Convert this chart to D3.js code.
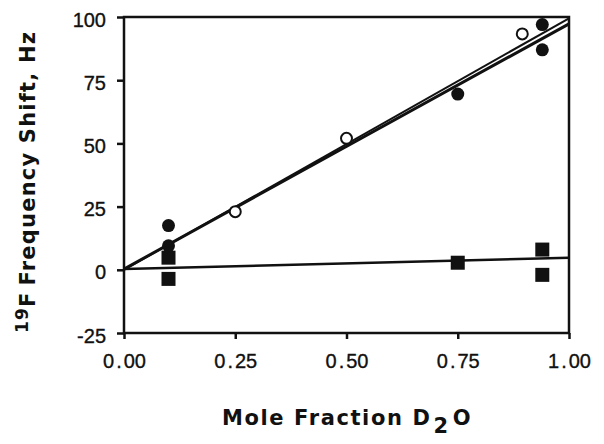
<!DOCTYPE html>
<html>
<head>
<meta charset="utf-8">
<script src="https://cdn.jsdelivr.net/npm/d3@7"></script>
<style>
    body { margin: 0; background: #fff; }
    svg { display: block; }
    .tick-label { font-family: "Liberation Sans", Arial, sans-serif; font-size: 20px; fill: #111; stroke: #111; stroke-width: 0.35px; }
    .axis-title { font-family: "DejaVu Sans", sans-serif; font-size: 21px; font-weight: bold; fill: #111; }
</style>
</head>
<body>
<svg id="svg" width="604" height="444"></svg>
<script>
// Data
const xTicks = [0, 0.25, 0.5, 0.75, 1.0];
const yTicks = [-25, 0, 25, 50, 75, 100];

// filled circles
const filledCircleX = [0.1, 0.1, 0.75, 0.94, 0.94];
const filledCircleY = [17.5, 9.5, 69.5, 97, 87];

// open circles
const openCircleX = [0.25, 0.5, 0.895];
const openCircleY = [23, 52, 93.3];

// filled squares
const squareX = [0.1, 0.1, 0.75, 0.94, 0.94];
const squareY = [4.8, -3.6, 2.8, 8, -2];

// fitted lines (start, end)
const fitLines = [
    { x: [0, 1], y: [0, 99.5], w: 2 },
    { x: [0, 1], y: [0.3, 97.3], w: 3 },
    { x: [0, 1], y: [0.3, 4.8], w: 2.5 }
];

const svg = d3.select("#svg");
const x = d3.scaleLinear().domain([0, 1]).range([124, 569]);
const y = d3.scaleLinear().domain([-25, 100]).range([333, 17]);

const g = svg.append("g");

// Fit lines
fitLines.forEach(l => {
    g.append("line")
        .attr("x1", x(l.x[0])).attr("y1", y(l.y[0]))
        .attr("x2", x(l.x[1])).attr("y2", y(l.y[1]))
        .attr("stroke", "#111")
        .attr("stroke-width", l.w);
});

// Frame
g.append("rect")
    .attr("x", x(0)).attr("y", y(100))
    .attr("width", x(1) - x(0)).attr("height", y(-25) - y(100))
    .attr("fill", "none")
    .attr("stroke", "#111")
    .attr("stroke-width", 2.5);

// Y axis
const yAxis = d3.axisLeft(y).tickValues(yTicks).tickSize(7).tickPadding(11)
    .tickFormat(d => String(d));
const ya = svg.append("g").attr("transform", `translate(${x(0)},0)`).call(yAxis);
ya.select(".domain").remove();
ya.selectAll("line").attr("stroke", "#111").attr("stroke-width", 2.5);
ya.selectAll("text").attr("class", "tick-label").attr("font-family", null).attr("font-size", null)
    .attr("dy", "0.45em");

// X axis (wide period as in the original typesetting)
const xAxis = d3.axisBottom(x).tickValues(xTicks).tickSize(6).tickPadding(15)
    .tickFormat("");
const xa = svg.append("g").attr("transform", `translate(0,${y(-25)})`).call(xAxis);
xa.select(".domain").remove();
xa.selectAll("line").attr("stroke", "#111").attr("stroke-width", 2.5);
xa.selectAll(".tick text").each(function(d) {
    const parts = d3.format(".2f")(d).split(".");
    const t = d3.select(this).attr("class", "tick-label")
        .attr("font-family", null).attr("font-size", null);
    t.append("tspan").text(parts[0]);
    t.append("tspan").attr("dx", 2).text(".");
    t.append("tspan").attr("dx", 2).text(parts[1]);
});

// Markers
g.selectAll(".sq")
    .data(squareX.map((v, i) => [v, squareY[i]]))
    .join("rect")
    .attr("class", "sq")
    .attr("x", d => x(d[0]) - 7).attr("y", d => y(d[1]) - 7)
    .attr("width", 14).attr("height", 14)
    .attr("fill", "#111");

g.selectAll(".fc")
    .data(filledCircleX.map((v, i) => [v, filledCircleY[i]]))
    .join("circle")
    .attr("class", "fc")
    .attr("cx", d => x(d[0])).attr("cy", d => y(d[1]))
    .attr("r", 6.5)
    .attr("fill", "#111");

g.selectAll(".oc")
    .data(openCircleX.map((v, i) => [v, openCircleY[i]]))
    .join("circle")
    .attr("class", "oc")
    .attr("cx", d => x(d[0])).attr("cy", d => y(d[1]))
    .attr("r", 5.5)
    .attr("fill", "#fff")
    .attr("stroke", "#111")
    .attr("stroke-width", 2);

// X title
const xt = svg.append("text")
    .attr("class", "axis-title")
    .attr("x", 222).attr("y", 425)
    .attr("letter-spacing", 1.6);
xt.append("tspan").text("Mole Fraction D");
xt.append("tspan").attr("dx", 2).attr("dy", 8).text("2");
xt.append("tspan").attr("dx", 3).attr("dy", -8).text("O");

// Y title
const yt = svg.append("text")
    .attr("class", "axis-title")
    .attr("transform", "translate(35,333) rotate(-90)")
    .attr("letter-spacing", 1.2);
yt.append("tspan").attr("dy", -7).attr("font-size", 17).text("19");
yt.append("tspan").attr("dy", 7).text("F");
yt.append("tspan").attr("dx", 6).text("Frequency Shift, Hz");
</script>
</body>
</html>
